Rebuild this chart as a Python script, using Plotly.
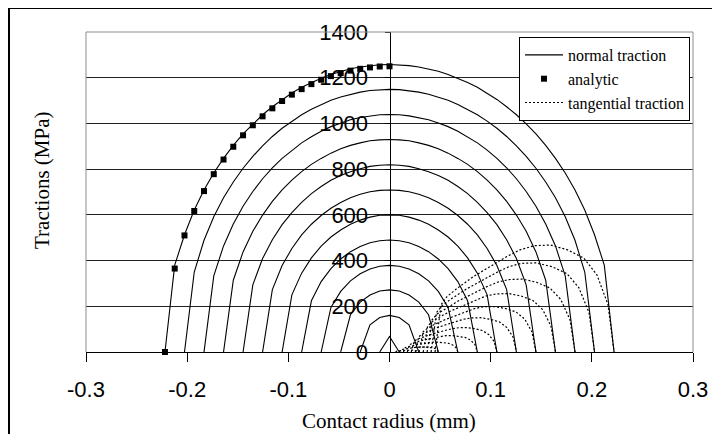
import plotly.graph_objects as go

# ---------------- data ----------------
# FE node positions along the contact radius (mm), right half
NODE_X = [0.0, 0.00965, 0.0193, 0.02895, 0.0386, 0.04825, 0.0579, 0.06755,
          0.0772, 0.08685, 0.0965, 0.10615, 0.1158, 0.12545, 0.1351, 0.14475,
          0.1544, 0.16405, 0.1737, 0.18335, 0.193, 0.20265, 0.2123, 0.22195]

# normal traction profiles (MPa) at NODE_X, from centre to contact edge (symmetric)
normal_01 = [68, 0]
normal_02 = [160, 151, 119, 0]
normal_03 = [272, 267, 249, 218, 163, 0]
normal_04 = [379, 375, 363, 342, 311, 265, 195, 0]
normal_05 = [490, 487, 478, 462, 439, 407, 365, 308, 224, 0]
normal_06 = [600, 598, 590, 577, 559, 534, 503, 463, 412, 345, 250, 0]
normal_07 = [709, 707, 701, 690, 675, 654, 629, 597, 559, 512, 453, 378, 273, 0]
normal_08 = [819, 817, 812, 802, 789, 772, 751, 724, 693, 655, 610, 557, 491,
             409, 294, 0]
normal_09 = [930, 928, 924, 915, 904, 889, 870, 847, 821, 789, 752, 709, 659,
             599, 528, 438, 314, 0]
normal_10 = [1039, 1038, 1033, 1026, 1016, 1002, 986, 966, 942, 915, 883, 847,
             806, 758, 702, 638, 560, 464, 333, 0]
normal_11 = [1149, 1148, 1144, 1137, 1128, 1116, 1101, 1083, 1062, 1038, 1010,
             979, 943, 902, 856, 804, 744, 675, 592, 489, 350, 0]
normal_12 = [1258, 1257, 1253, 1247, 1239, 1228, 1214, 1198, 1179, 1158, 1133,
             1105, 1073, 1038, 998, 954, 904, 847, 783, 709, 621, 513, 380, 0]

# analytic (Hertz) solution, markers
ANALYTIC_X = [-0.22195, -0.2123, -0.20265, -0.193, -0.18335, -0.1737, -0.16405,
              -0.1544, -0.14475, -0.1351, -0.12545, -0.1158, -0.10615, -0.0965,
              -0.08685, -0.0772, -0.06755, -0.0579, -0.04825, -0.0386,
              -0.02895, -0.0193, -0.00965, 0.0]
ANALYTIC_Y = [0, 365, 510, 617, 704, 778, 842, 898, 948, 992, 1031, 1066, 1098,
              1126, 1150, 1172, 1191, 1207, 1220, 1231, 1239, 1245, 1249, 1250]

# tangential traction profiles (x in mm, q in MPa)
tang_x_02 = [0.0059, 0.0066, 0.0074, 0.0087, 0.0108, 0.0126, 0.0151, 0.0168,
             0.0186, 0.0207, 0.0230, 0.0250, 0.0267, 0.0282, 0.0290]
tang_y_02 = [0, 4, 4, 5, 6, 6, 7, 8, 8, 8, 8, 7, 6, 4, 0]
tang_x_03 = [0.0098, 0.0111, 0.0124, 0.0146, 0.0180, 0.0211, 0.0252, 0.0280,
             0.0311, 0.0346, 0.0383, 0.0417, 0.0446, 0.0469, 0.0483]
tang_y_03 = [0, 10, 11, 13, 16, 17, 20, 21, 22, 22, 21, 19, 16, 10, 0]
tang_x_04 = [0.0137, 0.0155, 0.0173, 0.0204, 0.0253, 0.0295, 0.0353, 0.0393,
             0.0435, 0.0484, 0.0536, 0.0584, 0.0624, 0.0657, 0.0676]
tang_y_04 = [0, 19, 22, 26, 30, 34, 38, 41, 43, 43, 41, 38, 31, 19, 0]
tang_x_05 = [0.0176, 0.0199, 0.0223, 0.0262, 0.0325, 0.0379, 0.0454, 0.0505,
             0.0559, 0.0622, 0.0689, 0.0751, 0.0802, 0.0845, 0.0869]
tang_y_05 = [0, 32, 37, 43, 51, 56, 64, 69, 72, 72, 69, 63, 52, 32, 0]
tang_x_06 = [0.0215, 0.0244, 0.0273, 0.0320, 0.0397, 0.0464, 0.0555, 0.0617,
             0.0684, 0.0760, 0.0842, 0.0918, 0.0980, 0.1033, 0.1062]
tang_y_06 = [0, 47, 56, 64, 75, 84, 96, 102, 106, 107, 102, 94, 77, 47, 0]
tang_x_07 = [0.0254, 0.0288, 0.0322, 0.0379, 0.0469, 0.0548, 0.0655, 0.0729,
             0.0808, 0.0898, 0.0995, 0.1085, 0.1158, 0.1221, 0.1255]
tang_y_07 = [0, 66, 78, 89, 106, 118, 134, 143, 149, 150, 143, 132, 108, 66, 0]
tang_x_08 = [0.0293, 0.0332, 0.0372, 0.0437, 0.0541, 0.0632, 0.0756, 0.0841,
             0.0932, 0.1037, 0.1148, 0.1252, 0.1337, 0.1408, 0.1448]
tang_y_08 = [0, 88, 103, 119, 140, 156, 178, 190, 198, 199, 190, 175, 144, 88, 0]
tang_x_09 = [0.0333, 0.0377, 0.0421, 0.0495, 0.0613, 0.0717, 0.0857, 0.0953,
             0.1057, 0.1175, 0.1301, 0.1419, 0.1515, 0.1596, 0.1641]
tang_y_09 = [0, 113, 133, 153, 181, 201, 229, 245, 254, 256, 245, 225, 185, 113, 0]
tang_x_10 = [0.0372, 0.0421, 0.0471, 0.0553, 0.0686, 0.0801, 0.0958, 0.1065,
             0.1181, 0.1313, 0.1454, 0.1586, 0.1693, 0.1784, 0.1834]
tang_y_10 = [0, 141, 166, 190, 225, 250, 285, 305, 317, 319, 305, 280, 230, 141, 0]
tang_x_11 = [0.0411, 0.0465, 0.0520, 0.0612, 0.0758, 0.0885, 0.1059, 0.1178,
             0.1305, 0.1451, 0.1607, 0.1753, 0.1871, 0.1972, 0.2027]
tang_y_11 = [0, 173, 203, 233, 275, 306, 348, 373, 388, 390, 373, 343, 282, 173, 0]
tang_x_12 = [0.045, 0.051, 0.057, 0.067, 0.083, 0.097, 0.116, 0.129, 0.143,
             0.159, 0.176, 0.192, 0.205, 0.216, 0.222]
tang_y_12 = [0, 207, 243, 279, 330, 367, 418, 447, 465, 468, 447, 411, 338, 207, 0]

X_TICKS = [-0.3, -0.2, -0.1, 0.0, 0.1, 0.2, 0.3]
X_TICK_LABELS = ["-0.3", "-0.2", "-0.1", "0", "0.1", "0.2", "0.3"]
Y_TICKS = [0, 200, 400, 600, 800, 1000, 1200, 1400]
Y_TICK_LABELS = ["0", "200", "400", "600", "800", "1000", "1200", "1400"]

NORMALS = [normal_01, normal_02, normal_03, normal_04, normal_05, normal_06,
           normal_07, normal_08, normal_09, normal_10, normal_11, normal_12]
TANGS = [(tang_x_02, tang_y_02), (tang_x_03, tang_y_03), (tang_x_04, tang_y_04),
         (tang_x_05, tang_y_05), (tang_x_06, tang_y_06), (tang_x_07, tang_y_07),
         (tang_x_08, tang_y_08), (tang_x_09, tang_y_09), (tang_x_10, tang_y_10),
         (tang_x_11, tang_y_11), (tang_x_12, tang_y_12)]

# ---------------- figure ----------------
SERIF = "Liberation Serif, Times New Roman, serif"
SANS = "Liberation Sans, Arial, sans-serif"

fig = go.Figure()

for i, prof in enumerate(NORMALS):
    n = len(prof)
    xs = [-NODE_X[k] for k in range(n - 1, 0, -1)] + NODE_X[:n]
    ys = prof[:0:-1] + prof
    fig.add_trace(go.Scatter(
        x=xs, y=ys, mode="lines", name="normal traction",
        legendgroup="normal", showlegend=(i == 0), legendrank=1,
        line=dict(color="black", width=1.1), hoverinfo="skip"))

for i, (tx, ty) in enumerate(TANGS):
    fig.add_trace(go.Scatter(
        x=tx, y=ty, mode="lines", name="tangential traction",
        legendgroup="tang", showlegend=(i == 0), legendrank=3,
        line=dict(color="black", width=1.2, dash="2px,2px"),
        hoverinfo="skip"))

fig.add_trace(go.Scatter(
    x=ANALYTIC_X, y=ANALYTIC_Y, mode="markers", name="analytic",
    legendrank=2, cliponaxis=False,
    marker=dict(symbol="square", size=6, color="black"), hoverinfo="skip"))

# the page body adds an 8px offset; work in page pixels and convert
OFF = 8
W, H = 712, 426
L, R, T, B = 78, 27, 24, 82
pw, ph = W - L - R, H - T - B


def px(xpage):
    return (xpage - OFF - L) / pw


def py(ypage):
    return (H - B - (ypage - OFF)) / ph


shapes = [
    # plot-area border (grey): left, top, right
    dict(type="line", xref="paper", yref="paper", x0=0, x1=0, y0=0, y1=1,
         line=dict(color="#8c8c8c", width=1), layer="above"),
    dict(type="line", xref="paper", yref="paper", x0=0, x1=1, y0=1, y1=1,
         line=dict(color="#8c8c8c", width=1), layer="above"),
    dict(type="line", xref="paper", yref="paper", x0=1, x1=1, y0=0, y1=1,
         line=dict(color="#8c8c8c", width=1), layer="above"),
    # outer chart frame (black), left and top
    dict(type="line", xref="paper", yref="paper", x0=px(9), x1=px(9),
         y0=py(440), y1=py(8), line=dict(color="black", width=2)),
    dict(type="line", xref="paper", yref="paper", x0=px(8), x1=px(730),
         y0=py(8), y1=py(8), line=dict(color="black", width=2)),
]

annotations = [
    dict(text="Tractions (MPa)", xref="paper", yref="paper", x=px(42),
         y=py(181), textangle=-90, showarrow=False, xanchor="center",
         yanchor="middle", font=dict(family=SERIF, size=21, color="black")),
    dict(text="Contact radius (mm)", xref="paper", yref="paper", x=px(389),
         y=py(421), showarrow=False, xanchor="center", yanchor="middle",
         font=dict(family=SERIF, size=21, color="black")),
]

fig.update_layout(
    width=W, height=H,
    margin=dict(l=L, r=R, t=T, b=B, pad=0),
    paper_bgcolor="white", plot_bgcolor="white",
    showlegend=True,
    legend=dict(x=px(519), y=py(37), xanchor="left", yanchor="top",
                bgcolor="white", bordercolor="black", borderwidth=1,
                font=dict(family=SERIF, size=16, color="black"),
                itemwidth=38, tracegroupgap=0),
    shapes=shapes,
    annotations=annotations,
    xaxis=dict(range=[-0.3, 0.3], tickvals=X_TICKS, ticktext=X_TICK_LABELS,
               showgrid=False, zeroline=False, showline=True,
               linecolor="black", linewidth=1, ticks="outside", ticklen=9,
               tickcolor="black", ticklabelstandoff=9,
               tickfont=dict(family=SANS, size=22, color="black")),
    yaxis=dict(range=[0, 1400], tickvals=Y_TICKS, ticktext=Y_TICK_LABELS,
               anchor="free", position=0.5, side="left",
               showgrid=True, gridcolor="#222222", gridwidth=1,
               zeroline=False, showline=True, linecolor="black", linewidth=1,
               ticks="outside", ticklen=5, tickcolor="black",
               ticklabelstandoff=12,
               tickfont=dict(family=SANS, size=22, color="black")),
)

fig.write_html("out.html")
